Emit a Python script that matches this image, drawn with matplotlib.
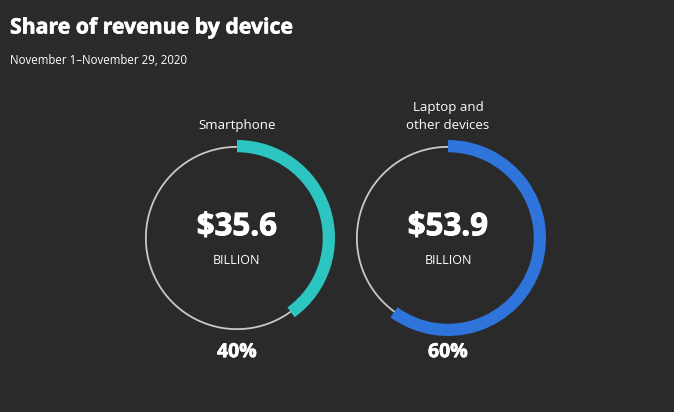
import numpy as np
import matplotlib as mpl
import matplotlib.pyplot as plt
import matplotlib.patheffects as pe

mpl.use('Agg')

title = 'Share of revenue by device'
subtitle = 'November 1\u2013November 29, 2020'

devices = ['Smartphone', 'Laptop and\nother devices']
revenue = [35.6, 53.9]      # billion USD
shares = [40, 60]           # percent
colors = ['#2cc5c1', '#2f74db']

bg = '#2a2a2a'
fg = '#ffffff'

W, H = 674, 412
fig = plt.figure(figsize=(W / 100, H / 100), dpi=100, facecolor=bg)
plt.rcParams['font.family'] = ['Open Sans', 'DejaVu Sans']
# the original font is a very heavy sans; thicken Open Sans Bold slightly
thick = [pe.withStroke(linewidth=0.45, foreground=fg)]

fig.text(10 / W, 1 - 28 / H, title, color=fg, fontsize=15.3, fontweight='bold',
         path_effects=thick, va='center', ha='left')
fig.text(10 / W, 1 - 61 / H, subtitle, color=fg, fontsize=8.3, va='center', ha='left')

centers = [(237, 238), (448, 238)]   # pixel centres of the donuts
r_px = 98

for i, (name, rev, share, col) in enumerate(zip(devices, revenue, shares, colors)):
    cx, cy = centers[i]
    ax = fig.add_axes([(cx - r_px) / W, (H - cy - r_px) / H, 2 * r_px / W, 2 * r_px / H])
    ax.set_facecolor('none')
    # thin full circle underneath the arc
    t = np.linspace(0, 2 * np.pi, 400)
    ax.plot(0.93 * np.cos(t), 0.93 * np.sin(t), color='#c8c8c8', lw=1.3, zorder=0.5)
    # share arc
    wedges, _ = ax.pie([share, 100 - share], colors=[col, 'none'], startangle=90,
                       counterclock=False, radius=1.0,
                       wedgeprops=dict(width=0.125, linewidth=0))
    for w in wedges:
        w.set_zorder(2)
    ax.set_xlim(-1, 1)
    ax.set_ylim(-1, 1)
    ax.set_aspect('equal')
    ax.axis('off')

    ax.text(0, 0.11, f'${rev:.1f}', color=fg, fontsize=22.5, fontweight='bold',
            path_effects=[pe.withStroke(linewidth=0.7, foreground=fg)],
            ha='center', va='center')
    ax.text(0, -0.23, 'BILLION', color=fg, fontsize=9, ha='center', va='center')
    ax.text(0, 1.08, name, color=fg, fontsize=9.5, ha='center', va='bottom',
            linespacing=1.5)
    ax.text(0, -1.165, f'{share}%', color=fg, fontsize=14, fontweight='bold',
            path_effects=thick, ha='center', va='center')

fig.savefig('out.png', dpi=100, facecolor=bg)
